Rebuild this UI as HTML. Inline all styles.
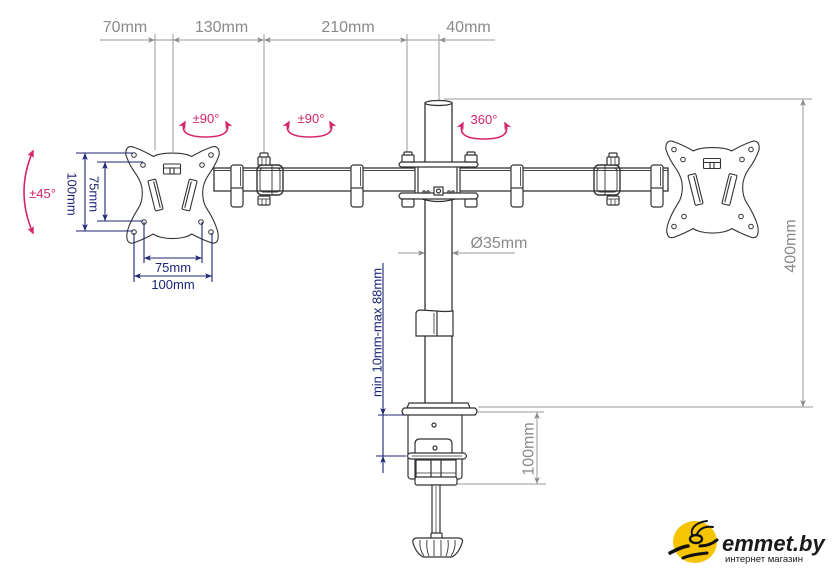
<!DOCTYPE html>
<html><head><meta charset="utf-8"><style>
html,body{margin:0;padding:0;background:#fff;}
svg{display:block;}
</style></head><body>
<svg width="840" height="578" viewBox="0 0 840 578" xmlns="http://www.w3.org/2000/svg">
<defs>
<marker id="ag" viewBox="0 0 10 10" refX="10" refY="5" markerWidth="8" markerHeight="7" markerUnits="userSpaceOnUse" orient="auto-start-reverse"><path d="M0,1 L10,5 L0,9 L2.5,5 z" fill="#8a8a8a"/></marker>
<marker id="ab" viewBox="0 0 10 10" refX="10" refY="5" markerWidth="8" markerHeight="7" markerUnits="userSpaceOnUse" orient="auto-start-reverse"><path d="M0,1 L10,5 L0,9 L2.5,5 z" fill="#1c2673"/></marker>
<marker id="ap" viewBox="0 0 10 10" refX="8" refY="5" markerWidth="8" markerHeight="8" markerUnits="userSpaceOnUse" orient="auto-start-reverse"><path d="M0,0.5 L10,5 L0,9.5 L2.5,5 z" fill="#d4246c"/></marker>
<path id="plp" d="M-40,-46.5 Q-30,-43 -19,-36.5 C-12,-41.5 12,-41.5 19,-36.5 Q30,-43 40,-46.5 Q45,-48 44.5,-41 Q41,-31 35,-23 Q28,-13 28,-3 Q28,8 33,15 Q40,26 43,36 Q45,46 40,45.5 Q30,42 19,36 C12,42.5 -12,42.5 -19,36 Q-30,42 -40,45.5 Q-45,46 -43,36 Q-40,26 -33,15 Q-28,8 -28,-3 Q-28,-13 -35,-23 Q-41,-31 -44.5,-41 Q-45,-48 -40,-46.5 Z"/>
<g id="pl">
<use href="#plp" fill="#fff" stroke="#333" stroke-width="5.4" stroke-linejoin="round"/>
<use href="#plp" fill="#fff" stroke="#fff" stroke-width="3.2" stroke-linejoin="round"/>
<g fill="#fff" stroke="#333" stroke-width="1">
<circle cx="-38.5" cy="-40.5" r="2.3"/><circle cx="38.5" cy="-40.5" r="2.3"/>
<circle cx="-38.5" cy="36.5" r="2.3"/><circle cx="38.5" cy="36.5" r="2.3"/>
<circle cx="-29.5" cy="-30.5" r="2.3"/><circle cx="29.5" cy="-30.5" r="2.3"/>
<circle cx="-28.5" cy="26.5" r="2.3"/><circle cx="28.5" cy="26.5" r="2.3"/>
</g>
<g fill="#fff" stroke="#333" stroke-width="1.1">
<g transform="translate(-17,-0.5) rotate(-14)"><rect x="-4" y="-15.5" width="8" height="31" rx="1.2"/><line x1="1.5" y1="-13.5" x2="1.5" y2="13.5"/></g>
<g transform="translate(17,-0.5) rotate(14)"><rect x="-4" y="-15.5" width="8" height="31" rx="1.2"/><line x1="-1.5" y1="-13.5" x2="-1.5" y2="13.5"/></g>
<rect x="-9" y="-31.5" width="17" height="10" rx="1"/>
<line x1="-9" y1="-27.5" x2="8" y2="-27.5"/>
<rect x="-2.5" y="-27.5" width="4" height="6"/>
</g>
</g>
<g id="clamp" fill="#fff" stroke="#333" stroke-width="1.2">
<rect x="0" y="0" width="12" height="42" rx="2.5"/>
<line x1="0" y1="23" x2="12" y2="23"/>
<line x1="9.5" y1="2" x2="9.5" y2="21" stroke-width="0.8"/>
</g>
<g id="joint" stroke="#333" stroke-width="1.2">
<rect x="-7" y="165" width="26" height="30" rx="5" fill="none" stroke-width="1.4"/>
<rect x="-4" y="168" width="20" height="24" rx="3" fill="none" stroke-width="0.9"/>
<line x1="8" y1="165" x2="8" y2="195" stroke-width="0.9"/>
<rect x="-4" y="153" width="8" height="5" rx="1" fill="#fff"/>
<rect x="-6" y="157" width="12" height="8" rx="1" fill="#fff"/>
<line x1="-2" y1="157" x2="-2" y2="165" stroke-width="0.8"/><line x1="2" y1="157" x2="2" y2="165" stroke-width="0.8"/>
<rect x="-6" y="196" width="12" height="9" rx="1.5" fill="#fff"/>
<line x1="-6" y1="199" x2="6" y2="199" stroke-width="0.8"/>
<line x1="-2" y1="199" x2="-2" y2="205" stroke-width="0.8"/><line x1="2" y1="199" x2="2" y2="205" stroke-width="0.8"/>
</g>
</defs>

<!-- extension lines top -->
<g stroke="#9a9a9a" stroke-width="1" fill="none">
<line x1="155" y1="34" x2="155" y2="150"/>
<line x1="173" y1="34" x2="173" y2="152"/>
<line x1="264" y1="34" x2="264" y2="154"/>
<line x1="407" y1="34" x2="407" y2="153"/>
<line x1="439" y1="34" x2="439" y2="101"/>
<path d="M100,40 L155,40" marker-end="url(#ag)"/>
<path d="M155,40 L173,40"/>
<path d="M173,40 L264,40" marker-start="url(#ag)" marker-end="url(#ag)"/>
<path d="M264,40 L407,40" marker-start="url(#ag)" marker-end="url(#ag)"/>
<path d="M407,40 L439,40"/>
<path d="M495,40 L439,40" marker-end="url(#ag)"/>
<!-- 400mm -->
<line x1="444" y1="99" x2="812" y2="99"/>
<path d="M803,99 L803,407" marker-start="url(#ag)" marker-end="url(#ag)"/>
<line x1="478" y1="407" x2="813" y2="407"/>
<!-- 100mm right -->
<line x1="478" y1="412" x2="544" y2="412"/>
<line x1="457" y1="484" x2="546" y2="484"/>
<path d="M537,412 L537,484" marker-start="url(#ag)" marker-end="url(#ag)"/>
<!-- 35 -->
<path d="M398,253 L425,253" marker-end="url(#ag)"/>
<path d="M515,253 L452,253" marker-end="url(#ag)"/>
</g>

<!-- gray labels -->
<g font-family="Liberation Sans, sans-serif" font-size="16" fill="#8a8a8a" text-anchor="middle">
<text x="125" y="32">70mm</text>
<text x="221.5" y="32">130mm</text>
<text x="348" y="32">210mm</text>
<text x="468.5" y="32">40mm</text>
<text x="499" y="248">Ø35mm</text>
<text transform="translate(790,246) rotate(-90)" x="0" y="5.5">400mm</text>
<text transform="translate(528,449) rotate(-90)" x="0" y="5.5">100mm</text>
</g>

<!-- arm bar -->
<rect x="214" y="168" width="454" height="23" fill="#fff" stroke="#333" stroke-width="1.3"/>
<line x1="214" y1="170.5" x2="668" y2="170.5" stroke="#444" stroke-width="1"/>

<use href="#clamp" x="231" y="165"/>
<use href="#clamp" x="351" y="165"/>
<use href="#clamp" x="511" y="165"/>
<use href="#clamp" x="651" y="165"/>

<use href="#joint" transform="translate(264,0)"/>
<use href="#joint" transform="translate(613,0) scale(-1,1)"/>

<!-- pole -->
<rect x="425" y="103" width="27" height="302" fill="#fff" stroke="#333" stroke-width="1.3"/>
<ellipse cx="438.5" cy="103" rx="13.5" ry="2.5" fill="#fff" stroke="#333" stroke-width="1.2"/>

<!-- hub -->
<g stroke="#333" stroke-width="1.2" fill="#fff">
<rect x="415" y="165" width="45" height="30"/>
<line x1="418" y1="166" x2="418" y2="194"/>
<line x1="457" y1="166" x2="457" y2="194"/>
<path d="M401,162 L476,162 Q480,164.5 476,167 L401,167 Q397,164.5 401,162 Z"/>
<path d="M401,193 L476,193 Q480,196 476,199 L401,199 Q397,196 401,193 Z"/>
<path d="M422,199 Q438,204 455,199" fill="none"/>
<rect x="434" y="187" width="9" height="8"/>
<circle cx="438.5" cy="191" r="2" />
<circle cx="424" cy="192" r="1.2"/><circle cx="428" cy="192" r="1.2"/>
<circle cx="449" cy="192" r="1.2"/><circle cx="453" cy="192" r="1.2"/>
<rect x="404" y="152" width="8" height="4" rx="1"/>
<rect x="402" y="155" width="12" height="7" rx="1"/>
<rect x="467" y="152" width="8" height="4" rx="1"/>
<rect x="465" y="155" width="12" height="7" rx="1"/>
<rect x="402" y="199" width="12" height="8" rx="1.5"/>
<rect x="465" y="199" width="12" height="8" rx="1.5"/>
</g>

<!-- plates -->
<use href="#pl" transform="translate(172.5,195.5)"/>
<use href="#pl" transform="translate(712.5,190)"/>

<!-- cable clip -->
<g stroke="#333" stroke-width="1.2" fill="#fff">
<path d="M416,313 Q417,310 420,310 L437,311 Q445,312 453,311 L453,336 L416,336 Z"/>
<line x1="437" y1="311" x2="437" y2="336"/>
<line x1="434" y1="313" x2="434" y2="334" stroke-width="0.8"/>
</g>

<!-- base clamp -->
<g stroke="#333" stroke-width="1.2" fill="#fff">
<rect x="408" y="413" width="54" height="66" rx="3"/>
<path d="M407,408 L409,403 L468,403 L470,408 Z"/>
<path d="M404,408 L475,408 Q479,411.5 475,415 L404,415 Q400,411.5 404,408 Z"/>
<circle cx="434" cy="425" r="2"/>
<path d="M415,478 L415,444 Q415,439 420,439 L447,439 Q452,439 452,444 L452,478"/>
<circle cx="435" cy="448" r="2"/>
<path d="M410,453 L464,453 Q469,456 464,459 L410,459 Q405,456 410,453 Z"/>
<line x1="412" y1="456" x2="462" y2="456" stroke-width="0.7"/>
<rect x="416" y="460" width="40" height="18"/>
<rect x="431" y="460" width="10" height="18"/>
<line x1="416" y1="473" x2="456" y2="473" stroke-width="0.8"/>
<rect x="415" y="477" width="42" height="8" rx="2"/>
<rect x="432" y="485" width="8" height="49"/>
<line x1="436" y1="486" x2="436" y2="533" stroke-width="0.7"/>
<rect x="431" y="533" width="11" height="6" rx="1"/>
<path d="M416,538 L459,538 Q464,539 462,543 Q459,553 452,557 L423,557 Q416,553 413,543 Q412,539 416,538 Z"/>
<g fill="none" stroke-width="0.9">
<path d="M420,540 Q419,549 424,556"/>
<path d="M427,540 Q426,549 429,556"/>
<path d="M434,540 L434,556"/>
<path d="M441,540 L441,556"/>
<path d="M448,540 Q449,549 446,556"/>
<path d="M455,540 Q456,549 451,556"/>
</g>
</g>

<!-- blue dimensions -->
<g stroke="#1c2673" stroke-width="1.1" fill="none">
<line x1="76" y1="153" x2="133" y2="153"/>
<line x1="76" y1="231" x2="133" y2="231"/>
<line x1="97" y1="162" x2="143" y2="162"/>
<line x1="97" y1="221" x2="143" y2="221"/>
<path d="M85,153 L85,231" marker-start="url(#ab)" marker-end="url(#ab)"/>
<path d="M105,162 L105,221" marker-start="url(#ab)" marker-end="url(#ab)"/>
<line x1="144" y1="222" x2="144" y2="263"/>
<line x1="202" y1="222" x2="202" y2="263"/>
<path d="M144,258 L202,258" marker-start="url(#ab)" marker-end="url(#ab)"/>
<line x1="134" y1="233" x2="134" y2="282"/>
<line x1="212" y1="233" x2="212" y2="282"/>
<path d="M134,276 L212,276" marker-start="url(#ab)" marker-end="url(#ab)"/>
<path d="M383,263 L383,415" marker-end="url(#ab)"/>
<path d="M383,415 L383,456"/>
<path d="M383,473 L383,456" marker-end="url(#ab)"/>
<line x1="378" y1="415" x2="404" y2="415"/>
<line x1="376" y1="456" x2="406" y2="456"/>
</g>
<g font-family="Liberation Sans, sans-serif" font-size="13" fill="#1c2673" text-anchor="middle">
<text transform="translate(72,194) rotate(90)" x="0" y="4.5">100mm</text>
<text transform="translate(94,194) rotate(90)" x="0" y="4.5">75mm</text>
<text x="173" y="272">75mm</text>
<text x="173" y="289">100mm</text>
<text transform="translate(377,332.5) rotate(-90)" x="0" y="4.5" textLength="129" lengthAdjust="spacingAndGlyphs">min 10mm-max 88mm</text>
</g>

<!-- pink rotations -->
<g stroke="#d4246c" stroke-width="1.6" fill="none">
<path d="M33,151 Q15,192 33,233" marker-start="url(#ap)" marker-end="url(#ap)"/>
<path d="M185,122 C179,133 190,137 205.5,137 C221,137 232,133 226,122" marker-start="url(#ap)" marker-end="url(#ap)"/>
<path d="M289,122 C283,133 294,137 309.5,137 C325,137 336,133 330,122" marker-start="url(#ap)" marker-end="url(#ap)"/>
<path d="M463,123 C457,135 468,139 484,139 C500,139 511,135 505,123" marker-start="url(#ap)" marker-end="url(#ap)"/>
</g>
<g font-family="Liberation Sans, sans-serif" font-size="13" fill="#d4246c" text-anchor="middle">
<text x="42.5" y="198">±45°</text>
<text x="206" y="123">±90°</text>
<text x="311" y="123">±90°</text>
<text x="484" y="124">360°</text>
</g>

<!-- logo -->
<ellipse cx="695" cy="542" rx="22" ry="21" fill="#f6c400"/>
<g stroke="#111" fill="none" stroke-linecap="round">
<path d="M692,535 C690,527 698,522 707,521" stroke-width="2"/>
<path d="M697,534 C700,528 706,526 713,527" stroke-width="2"/>
<ellipse cx="696" cy="539" rx="6" ry="4" stroke-width="2.4"/>
<path d="M670,553 C676,550 681,547 688,546" stroke-width="3.5"/>
<path d="M700,546 C706,546 712,544 717,540" stroke-width="3"/>
<path d="M683,558 C690,555 698,554 707,553" stroke-width="3"/>
</g>
<text x="722" y="551" font-family="Liberation Sans, sans-serif" font-size="22" font-weight="bold" font-style="italic" fill="#1a1a1a">emmet.by</text>
<text x="725" y="562" font-family="Liberation Sans, sans-serif" font-size="9" fill="#1a1a1a" textLength="78" lengthAdjust="spacingAndGlyphs">интернет магазин</text>
</svg>
</body></html>
